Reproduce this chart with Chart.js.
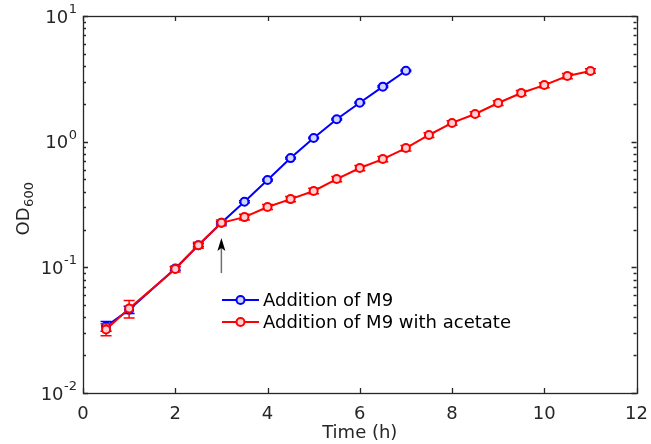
<!DOCTYPE html>
<html>
<head>
<meta charset="utf-8">
<script src="https://cdn.jsdelivr.net/npm/chart.js@4.4.1/dist/chart.umd.min.js"></script>
<style>
  html, body { margin: 0; padding: 0; background: #fff; }
  #wrap { width: 651px; height: 444px; }
</style>
</head>
<body>
<div id="wrap"><canvas id="od_canvas" width="651" height="444"></canvas></div>
<script>
// growth curves, OD600 vs time
const SERIES_LABELS = ['Addition of M9', 'Addition of M9 with acetate'];

const M9_TIME = [0.5, 1, 2, 2.5, 3, 3.5, 4, 4.5, 5, 5.5, 6, 6.5, 7];
const M9_OD = [0.034, 0.046, 0.098, 0.150, 0.226, 0.333, 0.495, 0.74, 1.07, 1.51, 2.04, 2.74, 3.67];
const M9_ERR = [0.003, 0.003, 0.003, 0.004, 0.005, 0.006, 0.008, 0.012, 0.016, 0.02, 0.03, 0.04, 0.05];

const ACE_TIME = [0.5, 1, 2, 2.5, 3, 3.5, 4, 4.5, 5, 5.5, 6, 6.5, 7, 7.5, 8, 8.5, 9, 9.5, 10, 10.5, 11];
const ACE_OD = [0.032, 0.047, 0.097, 0.150, 0.226, 0.251, 0.302, 0.349, 0.405, 0.504, 0.617, 0.727, 0.889, 1.13, 1.41, 1.66, 2.03, 2.44, 2.82, 3.33, 3.65];
const ACE_ERR = [0.0035, 0.0075, 0.005, 0.008, 0.012, 0.013, 0.014, 0.017, 0.02, 0.025, 0.03, 0.035, 0.045, 0.05, 0.06, 0.07, 0.09, 0.11, 0.13, 0.16, 0.15];

const X_TICKS = [0, 2, 4, 6, 8, 10, 12];
const Y_TICKS = [0.01, 0.1, 1, 10];
const Y_TICK_EXPONENTS = ['-2', '-1', '0', '1'];

// arrow marking the addition time
const ARROW_X = [3, 3];
const ARROW_Y = [0.090, 0.171];

const AXIS_COLOR = '#262626';
const FONT = 'DejaVu Sans';

function to_points(xs, ys) {
    let out = [];
    for (let i = 0; i < xs.length; i++) {
        out.push({x: xs[i], y: ys[i]});
    }
    return out;
}

const ERRORS = [M9_ERR, ACE_ERR];

// error bars under each dataset
const errorbar_plugin = {
    id: 'errorbars',
    beforeDatasetDraw(chart, args) {
        let ctx = chart.ctx;
        let xs = chart.scales.x;
        let ys = chart.scales.y;
        let ds = chart.data.datasets[args.index];
        let err = ERRORS[args.index];
        ctx.save();
        ctx.strokeStyle = ds.borderColor;
        ctx.lineWidth = 1.5;
        for (let i = 0; i < ds.data.length; i++) {
            let px = xs.getPixelForValue(ds.data[i].x);
            let top = ys.getPixelForValue(ds.data[i].y + err[i]);
            let bot = ys.getPixelForValue(ds.data[i].y - err[i]);
            ctx.beginPath();
            ctx.moveTo(px, top); ctx.lineTo(px, bot);
            ctx.moveTo(px - 5.5, top); ctx.lineTo(px + 5.5, top);
            ctx.moveTo(px - 5.5, bot); ctx.lineTo(px + 5.5, bot);
            ctx.stroke();
        }
        ctx.restore();
    }
};

// box, inward ticks, y labels with exponents, arrow, legend
const decor_plugin = {
    id: 'decor',
    afterDatasetsDraw(chart) {
        let ctx = chart.ctx;
        let a = chart.chartArea;
        let xs = chart.scales.x;
        let ys = chart.scales.y;
        ctx.save();
        ctx.strokeStyle = AXIS_COLOR;
        ctx.lineWidth = 1.3;
        ctx.beginPath();
        // x ticks bottom + top
        for (let v of X_TICKS) {
            let px = Math.round(xs.getPixelForValue(v)) + 0.5;
            ctx.moveTo(px, a.bottom); ctx.lineTo(px, a.bottom - 5);
            ctx.moveTo(px, a.top); ctx.lineTo(px, a.top + 5);
        }
        // y ticks: majors and minors
        for (let e = -2; e <= 1; e++) {
            for (let k = 1; k <= 9; k++) {
                let v = k * Math.pow(10, e);
                if (v > 10.0001) break;
                let py = Math.round(ys.getPixelForValue(v)) + 0.5;
                let len = (k == 1) ? 5 : 3;
                ctx.moveTo(a.left, py); ctx.lineTo(a.left + len, py);
                ctx.moveTo(a.right, py); ctx.lineTo(a.right - len, py);
            }
        }
        ctx.stroke();
        ctx.strokeRect(Math.round(a.left) + 0.5, Math.round(a.top) + 0.5, Math.round(a.right - a.left), Math.round(a.bottom - a.top));

        // y tick labels: 10 with raised exponent
        ctx.fillStyle = AXIS_COLOR;
        ctx.textAlign = 'right';
        ctx.textBaseline = 'alphabetic';
        for (let i = 0; i < Y_TICKS.length; i++) {
            let py = ys.getPixelForValue(Y_TICKS[i]);
            let right = a.left - 6;
            ctx.font = '13px "' + FONT + '"';
            let ew = ctx.measureText(Y_TICK_EXPONENTS[i]).width;
            ctx.fillText(Y_TICK_EXPONENTS[i], right, py - 3);
            ctx.font = '18px "' + FONT + '"';
            ctx.fillText('10', right - ew - 0.5, py + 6.5);
        }

        // y title: OD with subscript 600
        ctx.save();
        ctx.translate(22, 209);
        ctx.rotate(-Math.PI / 2);
        ctx.textAlign = 'left';
        ctx.font = '18px "' + FONT + '"';
        let w_od = ctx.measureText('OD').width;
        ctx.font = '13px "' + FONT + '"';
        let w_sub = ctx.measureText('600').width;
        let x0 = -(w_od + w_sub) / 2;
        ctx.font = '18px "' + FONT + '"';
        ctx.fillText('OD', x0, 6.5);
        ctx.font = '13px "' + FONT + '"';
        ctx.fillText('600', x0 + w_od + 0.5, 11);
        ctx.restore();

        // arrow
        let ax = xs.getPixelForValue(ARROW_X[0]);
        let ay0 = ys.getPixelForValue(ARROW_Y[0]);
        let ay1 = ys.getPixelForValue(ARROW_Y[1]);
        ctx.strokeStyle = '#707070';
        ctx.lineWidth = 1.5;
        ctx.beginPath();
        ctx.moveTo(ax, ay0); ctx.lineTo(ax, ay1 + 10);
        ctx.stroke();
        ctx.fillStyle = '#000';
        ctx.beginPath();
        ctx.moveTo(ax, ay1);
        ctx.lineTo(ax - 4, ay1 + 13);
        ctx.lineTo(ax, ay1 + 10);
        ctx.lineTo(ax + 4, ay1 + 13);
        ctx.closePath();
        ctx.fill();

        // legend
        let opts = chart.options.plugins.decor;
        ctx.font = opts.fontSize + 'px "' + FONT + '"';
        ctx.textBaseline = 'middle';
        ctx.textAlign = 'left';
        chart.data.datasets.forEach(function (ds, i) {
            let y = opts.top + i * opts.rowHeight;
            ctx.strokeStyle = ds.borderColor;
            ctx.lineWidth = 2;
            ctx.beginPath();
            ctx.moveTo(opts.left, y); ctx.lineTo(opts.left + opts.lineLength, y);
            ctx.stroke();
            ctx.fillStyle = ds.pointBackgroundColor;
            ctx.beginPath();
            ctx.arc(opts.left + opts.lineLength / 2, y, 4, 0, Math.PI * 2);
            ctx.fill();
            ctx.stroke();
            ctx.fillStyle = '#000';
            ctx.fillText(ds.label, opts.left + opts.lineLength + 4, y + 1);
        });
        ctx.restore();
    }
};

let THE_CHART = new Chart(document.getElementById('od_canvas'), {
    type: 'line',
    data: {
        datasets: [
            {
                label: SERIES_LABELS[0],
                data: to_points(M9_TIME, M9_OD),
                borderColor: '#0000ff',
                backgroundColor: '#0000ff',
                pointBackgroundColor: '#d4d4fa',
                pointBorderColor: '#0000ff',
                borderWidth: 2,
                pointRadius: 4,
                pointBorderWidth: 2,
                tension: 0,
                order: 2
            },
            {
                label: SERIES_LABELS[1],
                data: to_points(ACE_TIME, ACE_OD),
                borderColor: '#ff0000',
                backgroundColor: '#ff0000',
                pointBackgroundColor: '#ffd0d4',
                pointBorderColor: '#ff0000',
                borderWidth: 2,
                pointRadius: 4,
                pointBorderWidth: 2,
                tension: 0,
                order: 1
            }
        ]
    },
    options: {
        responsive: false,
        animation: false,
        layout: {padding: {left: 0, top: 16, right: 11, bottom: 0}},
        plugins: {
            legend: {display: false},
            tooltip: {enabled: false},
            decor: {left: 222, top: 300, rowHeight: 22, lineLength: 37, fontSize: 18}
        },
        scales: {
            x: {
                type: 'linear',
                min: 0,
                max: 12,
                afterBuildTicks: function (scale) {
                    scale.ticks = X_TICKS.map(v => ({value: v}));
                },
                afterFit: function (scale) { scale.height = 51; },
                grid: {display: false},
                border: {display: false},
                ticks: {
                    color: AXIS_COLOR,
                    font: {family: FONT, size: 18},
                    padding: 3,
                    maxRotation: 0
                },
                title: {
                    display: true,
                    text: 'Time (h)',
                    color: AXIS_COLOR,
                    font: {family: FONT, size: 18},
                    padding: {top: 0, bottom: 0}
                }
            },
            y: {
                type: 'logarithmic',
                min: 0.01,
                max: 10,
                afterBuildTicks: function (scale) {
                    scale.ticks = Y_TICKS.map(v => ({value: v}));
                },
                afterFit: function (scale) { scale.width = 83; },
                grid: {display: false},
                border: {display: false},
                ticks: {display: false},
                title: {display: false}
            }
        }
    },
    plugins: [errorbar_plugin, decor_plugin]
});
</script>
</body>
</html>
